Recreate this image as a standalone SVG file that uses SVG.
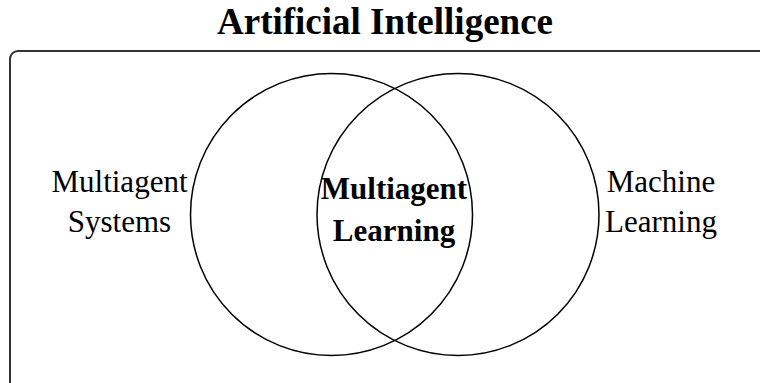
<svg xmlns="http://www.w3.org/2000/svg" width="760" height="383" viewBox="0 0 760 383">
<style>
.t{font-family:"Liberation Serif","Times New Roman",serif;fill:#000;text-anchor:middle}
.lbl{font-size:31px}
.b{font-weight:bold}
.c{fill:none;stroke:#000;stroke-width:1.5}
</style>
<rect width="760" height="383" fill="#fff"/>
<g id="ai">
<rect x="10" y="51" width="800" height="400" rx="8" ry="8" fill="none" stroke="#333" stroke-width="2"/>
<text class="t b" x="385" y="34" font-size="37">Artificial Intelligence</text>
</g>
<g id="mas">
<circle class="c" cx="331.5" cy="214.5" r="141"/>
<text class="t lbl" x="119.5" y="191.5">Multiagent</text>
<text class="t lbl" x="119.5" y="232">Systems</text>
</g>
<g id="ml">
<circle class="c" cx="458" cy="214.5" r="141"/>
<text class="t lbl" x="661" y="191.5">Machine</text>
<text class="t lbl" x="661" y="232">Learning</text>
</g>
<g id="mal">
<text class="t lbl b" x="394" y="199">Multiagent</text>
<text class="t lbl b" x="394" y="241">Learning</text>
</g>
<g id="connectors"></g>
</svg>
